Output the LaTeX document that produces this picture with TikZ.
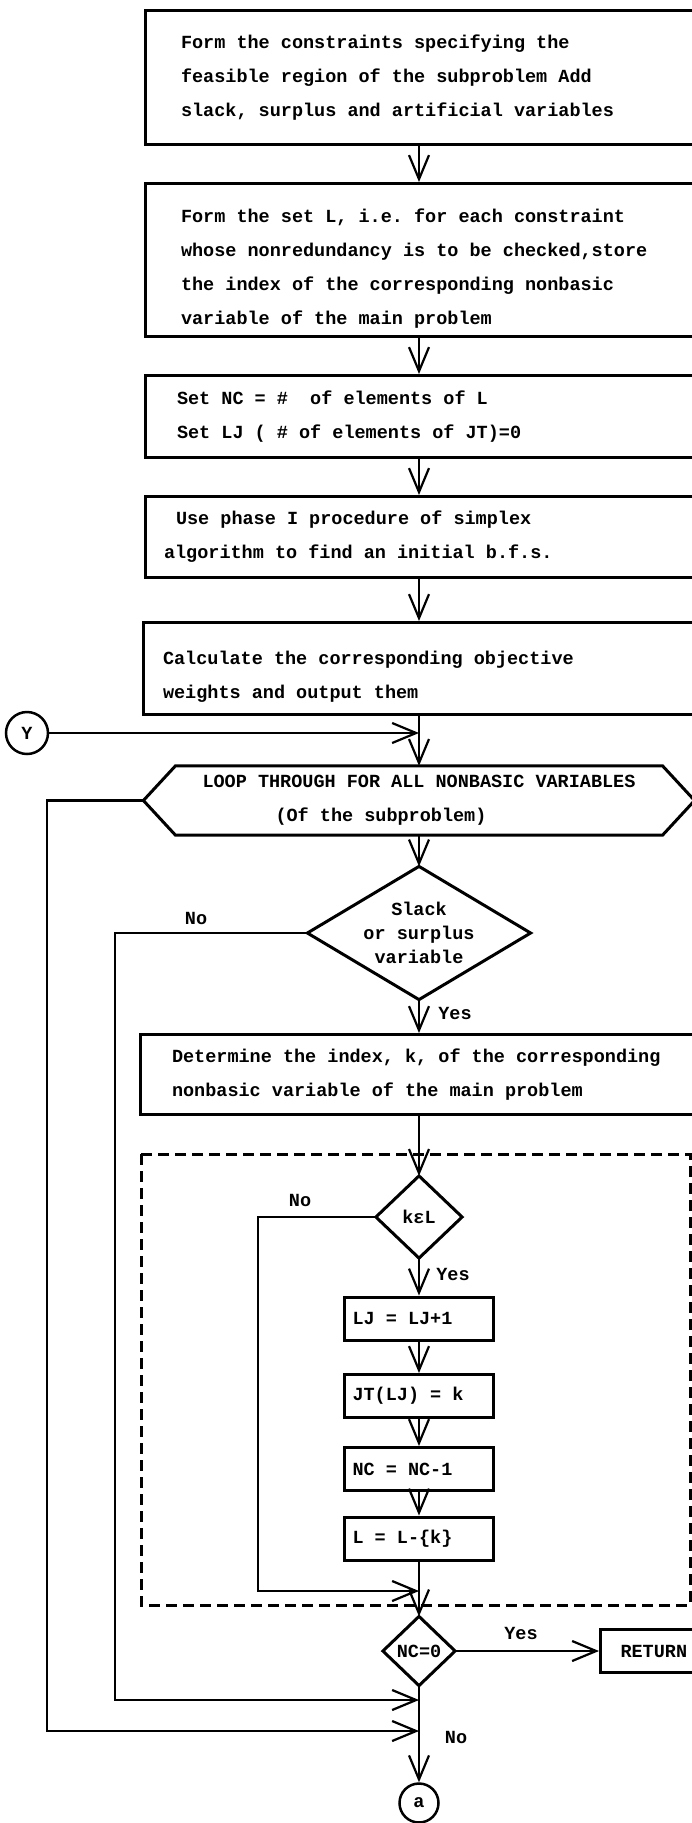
\documentclass[tikz,border=0pt]{standalone}
\usepackage{fontspec}
\setmonofont{Liberation Mono}
\usetikzlibrary{arrows.meta}

\begin{document}
\begin{tikzpicture}[x=1pt,y=-1pt,line width=2.2pt,
  >={Straight Barb[length=24pt,width=20pt]},
  every node/.style={font=\ttfamily\bfseries\fontsize{18.5}{34}\selectfont},
  box/.style={draw,line width=3pt,rectangle,align=flush left,anchor=north,inner ysep=0pt},
  small/.style={draw,line width=3pt,rectangle,align=flush left,minimum height=43pt,
    text width=133pt,inner xsep=8pt,inner ysep=0pt},
  test/.style={rectangle,inner sep=0pt,align=flush center,
    font=\ttfamily\bfseries\fontsize{18.5}{24}\selectfont},
  conn/.style={circle,draw,line width=2.5pt,inner sep=0pt},
  lbl/.style={inner sep=1pt}]
\useasboundingbox (0,0) rectangle (691,1823);

% Anfangsblock
\node[box,text width=476pt,inner xsep=36pt,minimum height=134pt] (b1) at (419,9)
  {Form the constraints specifying the\\feasible region of the subproblem Add\\slack, surplus and artificial variables};
\node[box,text width=476pt,inner xsep=36pt,minimum height=153pt] (b2) at (419,182)
  {\rule{0pt}{30pt}Form the set L, i.e. for each constraint\\whose nonredundancy is to be checked,store\\the index of the corresponding nonbasic\\variable of the main problem};
\node[box,text width=484pt,inner xsep=32pt,minimum height=82pt] (b3) at (419,374)
  {Set NC = \#~ of elements of L\\Set LJ ( \# of elements of JT)=0};
\node[box,text width=510pt,inner xsep=19pt,minimum height=81pt] (b4) at (419,495)
  {\hspace*{12pt}Use phase I procedure of simplex\\algorithm to find an initial b.f.s.};
\node[box,text width=512pt,inner xsep=20pt,minimum height=92pt] (b5) at (419,621)
  {\rule{0pt}{30pt}Calculate the corresponding objective\\weights and output them};
\node[conn,minimum size=42pt] (Y) at (27,733) {Y};
\coordinate (jY) at (419,733);

% Schleife
\node[rectangle,inner sep=0pt,align=flush left,minimum width=549pt,minimum height=67pt] (loop) at (419,800.5)
  {LOOP THROUGH FOR ALL NONBASIC VARIABLES\\\hspace*{73pt}(Of the subproblem)};
\draw[line width=3pt] (loop.west) -- ([xshift=32pt]loop.north west) -- ([xshift=-32pt]loop.north east)
  -- (loop.east) -- ([xshift=-32pt]loop.south east) -- ([xshift=32pt]loop.south west) -- cycle;
\node[test,minimum width=221pt,minimum height=131pt] (d1) at (419,933) {Slack\\or surplus\\variable};
\node[box,text width=494pt,inner xsep=32pt,minimum height=80pt] (b6) at (419,1033)
  {Determine the index, k, of the corresponding\\nonbasic variable of the main problem};

% gestrichelter Block
\draw[line width=3pt,dash pattern=on 11pt off 6pt] (141,1154) rectangle (690,1605);
\node[test,minimum width=84pt,minimum height=80pt] (kcL) at (419,1217) {kεL};
\node[small] (LJ) at (419,1318.5) {LJ = LJ+1};
\node[small] (JT) at (419,1396) {JT(LJ) = k};
\node[small] (NCm) at (419,1469) {NC = NC-1};
\node[small] (Lk) at (419,1538.5) {L = L-\{k\}};

% Ende
\node[test,minimum width=70pt,minimum height=67pt] (NC0) at (419,1651) {NC=0};
\node[draw,line width=3pt,anchor=west,minimum height=43pt,inner xsep=20pt,inner ysep=0pt] (ret) at (599,1651) {RETURN};
\node[conn,minimum size=39pt] (a) at (419,1803) {a};

\foreach \d in {d1,kcL,NC0}
  \draw[line width=3pt] (\d.north) -- (\d.east) -- (\d.south) -- (\d.west) -- cycle;

% Beschriftungen
\node[lbl] (no1) at (196,918) {No};
\node[lbl] (yes1) at (455,1013) {Yes};
\node[lbl] (no2) at (300,1200) {No};
\node[lbl] (yes2) at (453,1274) {Yes};
\node[lbl] (yes3) at (521,1633) {Yes};
\node[lbl] (no3) at (456,1737) {No};

\coordinate (j1) at (419,1591);
\coordinate (j2) at (419,1700);
\coordinate (j3) at (419,1731);
\coordinate (bK) at (258,1217);
\coordinate (bD) at (115,933);
\coordinate (bL) at (47,800.5);

% Pfeile
\foreach \s/\t in {b1/b2,b2/b3,b3/b4,b4/b5,b5/loop,loop/d1,d1/b6,b6/kcL,kcL/LJ,LJ/JT,JT/NCm,NCm/Lk,Lk/NC0,NC0/a}
  \draw[->] (\s.south) -- (\t.north);
\draw[->] (Y) -- (jY);
\draw[->] (kcL.west) -- (bK) |- (j1);
\draw[->] (d1.west) -- (bD) |- (j2);
\draw[->] (loop.west) -- (bL) |- (j3);
\draw[->] (NC0.east) -- (ret.west);
\end{tikzpicture}
\end{document}
